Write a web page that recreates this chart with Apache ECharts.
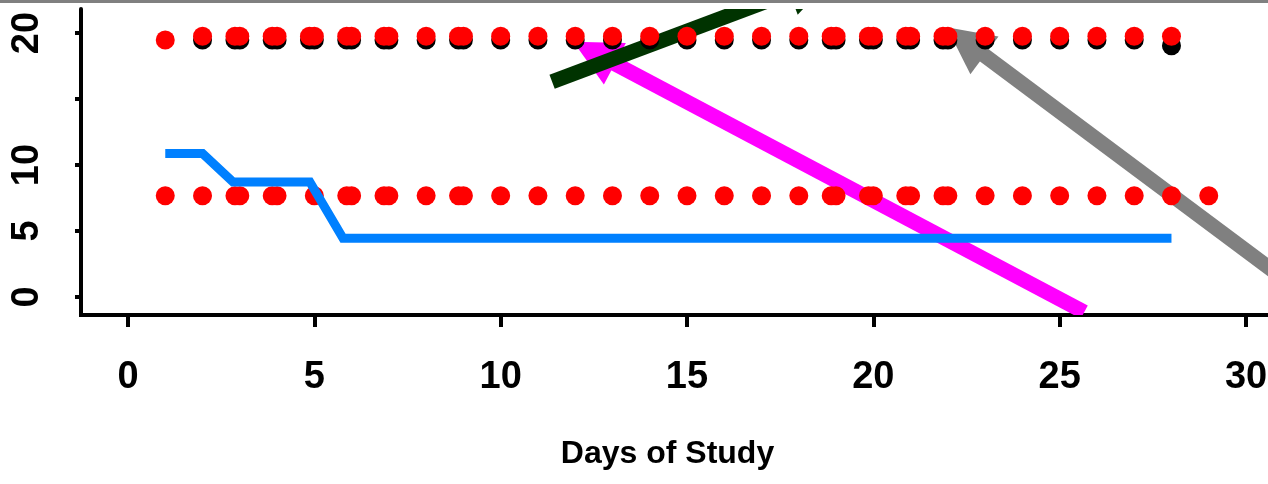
<!DOCTYPE html>
<html>
<head>
<meta charset="utf-8">
<script src="https://cdn.jsdelivr.net/npm/echarts@6/dist/echarts.min.js"></script>
<style>
  html, body { margin: 0; padding: 0; background: #ffffff; }
  #chart { width: 1268px; height: 484px; }
</style>
</head>
<body>
<div id="chart"></div>
<script>
// Axis ticks and labels
const xTicks = [0, 5, 10, 15, 20, 25, 30];
const yTicks = [0, 5, 10, 15, 20];
const yLabels = [0, 5, 10, 20];

// Upper row of markers, one per study day
const upperDays = [1, 2, 3, 4, 5, 6, 7, 8, 9, 10, 11, 12, 13, 14, 15, 16, 17, 18, 19, 20, 21, 22, 23, 24, 25, 26, 27, 28];
const upperRed = [19.47, 19.75, 19.75, 19.75, 19.75, 19.75, 19.75, 19.75, 19.75, 19.75, 19.75, 19.75, 19.75, 19.75,
                  19.75, 19.75, 19.75, 19.75, 19.75, 19.75, 19.75, 19.75, 19.75, 19.75, 19.75, 19.75, 19.75, 19.75];
const upperBlack = [null, 19.47, 19.47, 19.47, 19.47, 19.47, 19.47, 19.47, 19.47, 19.47, 19.47, 19.47, 19.47, 19.47,
                    19.47, 19.47, 19.47, 19.47, 19.47, 19.47, 19.47, 19.47, 19.47, 19.47, 19.47, 19.47, 19.47, 19.04];
// Second observations recorded on some days of the upper row
const upperPairDays = [2.87, 3.87, 4.87, 5.87, 6.87, 8.87, 18.87, 19.87, 20.87, 21.87];
const upperPairRed = [19.75, 19.75, 19.75, 19.75, 19.75, 19.75, 19.75, 19.75, 19.75, 19.75];
const upperPairBlack = [19.47, 19.47, 19.47, 19.47, 19.47, 19.47, 19.47, 19.47, 19.47, 19.47];

// Lower row of markers
const lowerDays = [1, 2, 3, 4, 5, 6, 7, 8, 9, 10, 11, 12, 13, 14, 15, 16, 17, 18, 19, 20, 21, 22, 23, 24, 25, 26, 27, 28, 29];
const lowerRed = [7.67, 7.67, 7.67, 7.67, 7.67, 7.67, 7.67, 7.67, 7.67, 7.67, 7.67, 7.67, 7.67, 7.67, 7.67,
                  7.67, 7.67, 7.67, 7.67, 7.67, 7.67, 7.67, 7.67, 7.67, 7.67, 7.67, 7.67, 7.67, 7.67];
const lowerPairDays = [2.87, 3.87, 5.87, 6.87, 8.87, 18.87, 19.87, 20.87, 21.87];
const lowerPairRed = [7.67, 7.67, 7.67, 7.67, 7.67, 7.67, 7.67, 7.67, 7.67];

// Blue trace
const traceDays = [1, 2, 2.82, 4.88, 5.77, 28];
const traceValues = [10.87, 10.87, 8.71, 8.71, 4.45, 4.45];

// Annotation arrows: tail point, tip point, colour
const arrowTail = [[25.66, -1.14], [31.45, 0.46], [11.38, 16.31]];
const arrowTip = [[11.95, 19.34], [21.97, 20.43], [18.93, 24.3]];
const arrowColor = ['#ff00ff', '#808080', '#003300'];

const FONT = "'Liberation Sans', Arial, sans-serif";

function pairs(xs, ys) {
  const out = [];
  for (let i = 0; i < xs.length; i++) {
    if (ys[i] !== null) out.push([xs[i], ys[i]]);
  }
  return out;
}

function dots(name, data, color) {
  return {
    name: name,
    type: 'scatter',
    data: data,
    symbol: 'circle',
    symbolSize: 19,
    itemStyle: { color: color, opacity: 1 },
    silent: true
  };
}

// Draws a thick shaft with a triangular head, from tail to tip
function renderArrow(params, api) {
  const i = api.value(0);
  const p1 = api.coord(arrowTail[i]);
  const p2 = api.coord(arrowTip[i]);
  const dx = p2[0] - p1[0], dy = p2[1] - p1[1];
  const len = Math.sqrt(dx * dx + dy * dy);
  const ux = dx / len, uy = dy / len;
  const nx = -uy, ny = ux;
  const headLen = 47, headHalf = 23.5, shaftHalf = 7.5;
  const bx = p2[0] - ux * headLen, by = p2[1] - uy * headLen;
  const sx = bx + ux * 2, sy = by + uy * 2;
  const color = arrowColor[i];
  return {
    type: 'group',
    children: [
      {
        type: 'polygon',
        shape: { points: [
          [p1[0] + nx * shaftHalf, p1[1] + ny * shaftHalf],
          [sx + nx * shaftHalf, sy + ny * shaftHalf],
          [sx - nx * shaftHalf, sy - ny * shaftHalf],
          [p1[0] - nx * shaftHalf, p1[1] - ny * shaftHalf]
        ] },
        style: { fill: color }
      },
      {
        type: 'polygon',
        shape: { points: [
          [p2[0], p2[1]],
          [bx + nx * headHalf, by + ny * headHalf],
          [bx - nx * headHalf, by - ny * headHalf]
        ] },
        style: { fill: color }
      }
    ]
  };
}

const chart = echarts.init(document.getElementById('chart'), null, { renderer: 'canvas' });

chart.setOption({
  animation: false,
  backgroundColor: '#ffffff',
  grid: { left: 81, right: 0, top: 9, bottom: 169, containLabel: false, outerBoundsMode: 'none' },
  xAxis: {
    type: 'value',
    min: -1.261,
    max: 30.59,
    splitLine: { show: false },
    axisLine: { onZero: false, lineStyle: { color: '#000000', width: 4, cap: 'square' } },
    axisTick: { show: true, customValues: xTicks, length: 12, lineStyle: { color: '#000000', width: 4 } },
    axisLabel: {
      customValues: xTicks,
      margin: 44,
      color: '#000000',
      fontFamily: FONT,
      fontSize: 38,
      fontWeight: 'bold'
    },
    name: 'Days of Study',
    nameLocation: 'middle',
    nameGap: 123,
    nameTextStyle: { color: '#000000', fontFamily: FONT, fontSize: 32, fontWeight: 'bold', padding: [0, 14, 0, 0] }
  },
  yAxis: {
    type: 'value',
    min: -1.364,
    max: 21.818,
    splitLine: { show: false },
    axisLine: { onZero: false, lineStyle: { color: '#000000', width: 4 } },
    axisTick: { show: true, customValues: yTicks, length: 6, lineStyle: { color: '#000000', width: 4 } },
    axisLabel: {
      customValues: yLabels,
      rotate: 90,
      margin: 34,
      color: '#000000',
      fontFamily: FONT,
      fontSize: 38,
      fontWeight: 'bold'
    }
  },
  graphic: [
    { type: 'rect', left: 0, top: 0, shape: { width: 1268, height: 3 }, style: { fill: '#808080' }, z: 100 }
  ],
  series: [
    dots('upper-black', pairs(upperDays, upperBlack), '#000000'),
    dots('upper-black-2', pairs(upperPairDays, upperPairBlack), '#000000'),
    dots('upper-red', pairs(upperDays, upperRed), '#ff0000'),
    dots('upper-red-2', pairs(upperPairDays, upperPairRed), '#ff0000'),
    dots('lower-red', pairs(lowerDays, lowerRed), '#ff0000'),
    dots('lower-red-2', pairs(lowerPairDays, lowerPairRed), '#ff0000'),
    {
      name: 'trace',
      type: 'line',
      data: pairs(traceDays, traceValues),
      showSymbol: false,
      symbol: 'none',
      lineStyle: { color: '#0080ff', width: 9, cap: 'butt', join: 'miter' },
      silent: true
    },
    {
      name: 'arrows',
      type: 'custom',
      clip: true,
      silent: true,
      data: [[0], [1], [2]],
      renderItem: renderArrow
    }
  ]
});
</script>
</body>
</html>
